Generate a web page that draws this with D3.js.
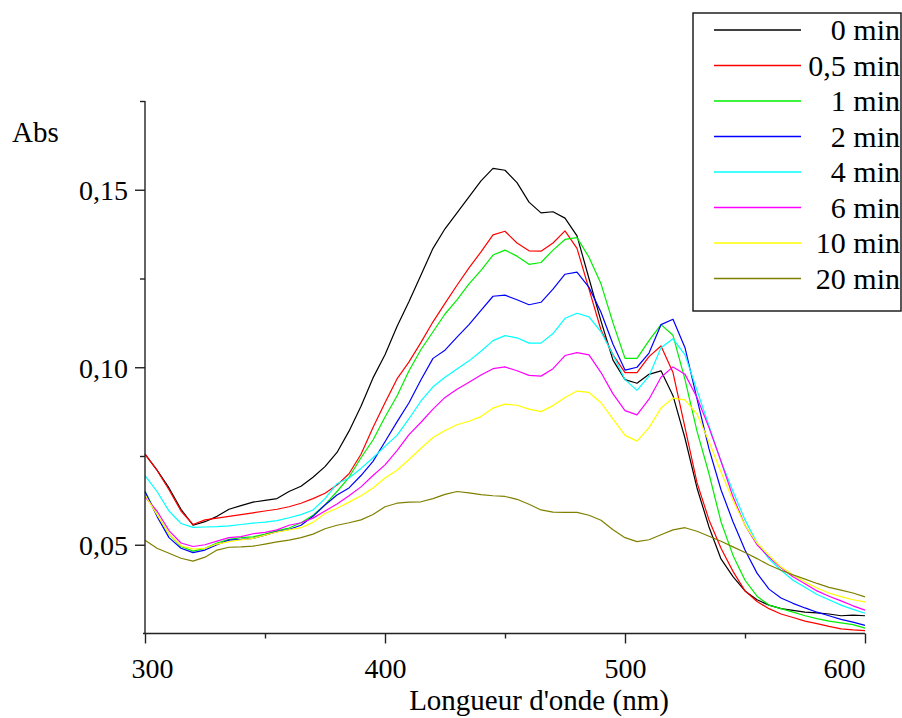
<!DOCTYPE html>
<html>
<head>
<meta charset="utf-8">
<script src="https://cdn.jsdelivr.net/npm/d3@7/dist/d3.min.js"></script>
<style>
  html, body { margin: 0; padding: 0; background: #fff; }
  svg { display: block; }
  svg text { fill: #000; }
</style>
</head>
<body>
<svg id="chart" width="902" height="718"></svg>
<script>
// ---- DATA ----
const wavelengths = d3.range(300, 601, 5); // 300..600 nm, step 5
const seriesNames = ["0 min", "0,5 min", "1 min", "2 min", "4 min", "6 min", "10 min", "20 min"];
const seriesColors = ["#000000", "#ff0000", "#00ee00", "#0000ff", "#00ffff", "#ff00ff", "#ffff00", "#808000"];

const abs0 = [0.0755,0.071,0.066,0.060,0.0555,0.0565,0.058,0.060,0.061,0.062,0.0625,0.063,0.065,0.0665,0.069,0.072,0.076,0.082,0.089,0.097,0.1035,0.1115,0.1185,0.126,0.1335,0.139,0.1435,0.148,0.1525,0.156,0.1555,0.152,0.1465,0.1435,0.1438,0.142,0.137,0.125,0.113,0.102,0.0965,0.0955,0.098,0.099,0.092,0.080,0.066,0.055,0.046,0.041,0.037,0.0345,0.033,0.032,0.0315,0.031,0.0308,0.0305,0.030,0.0302,0.030];
const abs05 = [0.0755,0.071,0.0655,0.0595,0.0557,0.057,0.0575,0.058,0.0585,0.059,0.0595,0.060,0.0607,0.0617,0.063,0.0645,0.0668,0.070,0.0755,0.083,0.090,0.0967,0.1015,0.107,0.1128,0.118,0.1231,0.128,0.1325,0.1373,0.1383,0.135,0.1328,0.1327,0.135,0.1384,0.1335,0.122,0.1105,0.1035,0.0985,0.0985,0.103,0.106,0.0985,0.083,0.0675,0.057,0.049,0.0425,0.037,0.034,0.032,0.0305,0.0295,0.0285,0.0278,0.027,0.0263,0.026,0.0258];
const abs1 = [0.065,0.0585,0.053,0.0495,0.0482,0.049,0.0505,0.0515,0.052,0.0522,0.053,0.054,0.0547,0.0562,0.0583,0.0613,0.065,0.069,0.0745,0.0795,0.086,0.0919,0.099,0.105,0.110,0.115,0.119,0.1235,0.1273,0.1316,0.133,0.1313,0.129,0.1295,0.133,0.136,0.1365,0.131,0.1235,0.1125,0.1025,0.1025,0.1075,0.112,0.109,0.0965,0.082,0.070,0.0565,0.047,0.040,0.0355,0.033,0.032,0.031,0.030,0.0292,0.0285,0.028,0.0275,0.0265];
const abs2 = [0.065,0.058,0.052,0.049,0.0478,0.0485,0.050,0.0513,0.0515,0.0518,0.0527,0.0537,0.0543,0.0555,0.058,0.0612,0.064,0.066,0.0695,0.0735,0.079,0.0846,0.090,0.0965,0.1025,0.1048,0.1085,0.112,0.116,0.1200,0.1203,0.119,0.1176,0.1183,0.122,0.1262,0.1268,0.1225,0.1155,0.1065,0.0992,0.100,0.104,0.112,0.1135,0.1055,0.0911,0.077,0.0655,0.0565,0.0485,0.042,0.0375,0.035,0.0335,0.0322,0.031,0.030,0.029,0.0282,0.0273];
const abs4 = [0.0695,0.065,0.0595,0.056,0.0549,0.055,0.0551,0.0553,0.0557,0.0561,0.0564,0.0568,0.0576,0.0585,0.0598,0.063,0.0672,0.0688,0.0715,0.0745,0.0777,0.0808,0.0855,0.0905,0.0945,0.0972,0.0995,0.1018,0.1045,0.1075,0.1089,0.1083,0.1068,0.1068,0.1095,0.1138,0.1152,0.1142,0.1100,0.1035,0.0965,0.0935,0.0975,0.1055,0.108,0.1035,0.0935,0.0835,0.0735,0.065,0.057,0.0505,0.046,0.0428,0.040,0.038,0.036,0.0345,0.033,0.0318,0.0307];
const abs6 = [0.0635,0.0595,0.054,0.0505,0.0495,0.050,0.051,0.052,0.0523,0.0531,0.0535,0.0542,0.0555,0.0562,0.0575,0.0595,0.0615,0.0638,0.0663,0.0695,0.0725,0.0765,0.081,0.0845,0.0882,0.0915,0.0938,0.0958,0.0978,0.0996,0.1001,0.099,0.0977,0.0975,0.0996,0.1033,0.1041,0.1035,0.0985,0.0925,0.0878,0.0866,0.091,0.0972,0.1001,0.098,0.0915,0.083,0.0735,0.0635,0.0555,0.050,0.0465,0.0435,0.041,0.039,0.037,0.0355,0.0342,0.0328,0.0316];
const abs10 = [0.064,0.0585,0.053,0.0497,0.0488,0.049,0.0502,0.0509,0.0514,0.0518,0.0527,0.0536,0.0542,0.0548,0.0563,0.0588,0.0603,0.062,0.0638,0.066,0.0688,0.071,0.074,0.0772,0.0802,0.0822,0.0838,0.0848,0.0861,0.0885,0.0896,0.0893,0.0882,0.0875,0.0892,0.0915,0.0933,0.0929,0.090,0.0854,0.0808,0.0792,0.083,0.0885,0.0913,0.0908,0.0868,0.079,0.0705,0.0625,0.0555,0.0505,0.047,0.0437,0.0415,0.0395,0.0378,0.0364,0.0354,0.0345,0.0339];
const abs20 = [0.0513,0.049,0.0476,0.0462,0.0454,0.0465,0.0485,0.0493,0.0494,0.0496,0.0502,0.0508,0.0513,0.052,0.053,0.0545,0.0555,0.0562,0.057,0.0585,0.0607,0.0617,0.062,0.0621,0.063,0.0642,0.065,0.0646,0.0641,0.0638,0.0636,0.0628,0.0614,0.0598,0.0592,0.0591,0.0591,0.0583,0.0569,0.0542,0.052,0.0509,0.0514,0.0528,0.0542,0.0548,0.0538,0.0524,0.051,0.0494,0.0478,0.0461,0.0443,0.0428,0.0415,0.0403,0.0391,0.038,0.0372,0.0364,0.0353];

const allSeries = [abs0, abs05, abs1, abs2, abs4, abs6, abs10, abs20];

const xMajorTicks = [300, 400, 500, 600];
const xMinorTicks = [350, 450, 550];
const yMajorTicks = [0.05, 0.10, 0.15];
const yMinorTicks = [0.075, 0.125, 0.175];

// ---- CHART ----
const FONT = "'Liberation Serif', 'Times New Roman', Times, 'DejaVu Serif', serif";
const svg = d3.select("#chart").attr("font-family", FONT);
const x = d3.scaleLinear().domain([300, 600]).range([145, 865]);
const y = d3.scaleLinear().domain([0.025, 0.175]).range([633.5, 101]);
const fmt = d => d3.format(".2f")(d).replace(".", ",");

// curves
const line = d3.line().x((d, i) => x(wavelengths[i])).y(d => y(d));
allSeries.forEach((vals, k) => {
  svg.append("path")
    .datum(vals)
    .attr("fill", "none")
    .attr("stroke", seriesColors[k])
    .attr("stroke-width", 1.2)
    .attr("stroke-linejoin", "round")
    .attr("d", line);
});

// y axis
const yAxis = svg.append("g").attr("transform", `translate(${x(300)},0)`)
  .call(d3.axisLeft(y).tickValues(yMajorTicks).tickSize(10).tickPadding(7).tickFormat(fmt));
const yAxisMinor = svg.append("g").attr("transform", `translate(${x(300)},0)`)
  .call(d3.axisLeft(y).tickValues(yMinorTicks).tickSize(5).tickFormat(""));
yAxisMinor.select(".domain").remove();
yAxis.select(".domain").attr("d", `M0,${y(0.175)}V${y(0.025)}`);
yAxis.selectAll("text").attr("dy", "0.36em").attr("font-size", 28);

// x axis
const xAxis = svg.append("g").attr("transform", `translate(0,${y(0.025)})`)
  .call(d3.axisBottom(x).tickValues(xMajorTicks).tickSize(10).tickFormat(d3.format("d")));
const xAxisMinor = svg.append("g").attr("transform", `translate(0,${y(0.025)})`)
  .call(d3.axisBottom(x).tickValues(xMinorTicks).tickSize(5).tickFormat(""));
xAxisMinor.select(".domain").remove();
xAxis.select(".domain").attr("d", `M${x(300) - 2},0H${x(600)}`);
xAxis.selectAll("text")
  .attr("y", 44).attr("dy", 0)
  .attr("font-size", 28)
  .attr("text-anchor", d => d === 600 ? "end" : "middle")
  .attr("dx", d => d === 300 ? 7 : 0);

svg.selectAll("g").attr("font-family", FONT);
svg.selectAll(".domain").attr("stroke", "#222").attr("stroke-width", 1.4);
svg.selectAll(".tick line").attr("stroke", "#222").attr("stroke-width", 1.4);

// axis titles
svg.append("text").attr("x", 12).attr("y", 142).attr("font-size", 29).text("Abs");
svg.append("text").attr("x", 539).attr("y", 710).attr("text-anchor", "middle")
  .attr("font-size", 29).text("Longueur d'onde (nm)");

// legend
const lg = svg.append("g");
lg.append("rect").attr("x", 693).attr("y", 13).attr("width", 208).attr("height", 298)
  .attr("fill", "#fff").attr("stroke", "#111").attr("stroke-width", 1.4);
seriesNames.forEach((name, k) => {
  const ly = 30 + k * 35.5;
  lg.append("line").attr("x1", 714).attr("x2", 801).attr("y1", ly).attr("y2", ly)
    .attr("stroke", seriesColors[k]).attr("stroke-width", 1.3);
  lg.append("text").attr("x", 900).attr("y", ly + 10).attr("text-anchor", "end")
    .attr("font-size", 30).text(name);
});
</script>
</body>
</html>
